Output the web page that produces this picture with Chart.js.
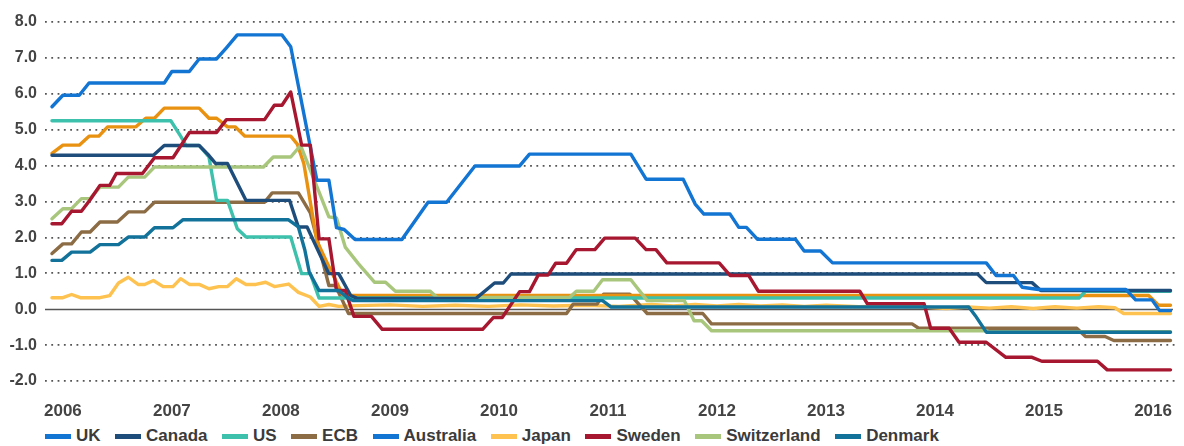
<!DOCTYPE html>
<html>
<head>
<meta charset="utf-8">
<script src="https://cdn.jsdelivr.net/npm/chart.js@4"></script>
<style>
  body { margin: 0; background: #fff; }
  #wrap { position: relative; width: 1184px; height: 446px; }
  #box { position: absolute; left: 0; top: 0; width: 1184px; height: 418px; }
  #legend {
    position: absolute; left: 45px; top: 426px; display: flex; gap: 14.5px;
    font: bold 17px 'Liberation Sans', Arial, sans-serif;
    line-height: 20px; color: #3b3b3b;
  }
  .item { display: flex; align-items: center; }
  .sw { width: 26px; height: 5px; margin-right: 5px; }
</style>
</head>
<body>
<div id="wrap">
  <div id="box"><canvas id="rates"></canvas></div>
  <div id="legend"></div>
</div>
<script>
// x = year (decimal), y = policy rate %
const years = [2006, 2007, 2008, 2009, 2010, 2011, 2012, 2013, 2014, 2015, 2016];
const names = ["UK", "Canada", "US", "ECB", "Australia", "Japan", "Sweden", "Switzerland", "Denmark"];

const uk = [[2005.90,4.34],[2006.00,4.57],[2006.15,4.57],[2006.24,4.82],[2006.33,4.82],[2006.41,5.08],[2006.67,5.08],
  [2006.76,5.32],[2006.84,5.32],[2006.93,5.60],[2007.25,5.60],[2007.34,5.32],[2007.41,5.32],[2007.51,5.08],[2007.58,5.08],
  [2007.67,4.82],[2008.09,4.82],[2008.15,4.60],[2008.21,4.06],[2008.33,1.90],[2008.43,1.25],[2008.57,0.38],
  [2015.96,0.38],[2016.05,0.11],[2016.16,0.11]];

const canada = [[2005.90,4.29],[2006.83,4.29],[2006.93,4.56],[2007.25,4.56],[2007.34,4.28],[2007.40,4.06],[2007.51,4.06],
  [2007.68,3.03],[2008.08,3.03],[2008.16,2.29],[2008.24,2.29],[2008.44,0.99],[2008.53,0.99],[2008.64,0.38],[2008.70,0.30],
  [2009.79,0.30],[2009.96,0.73],[2010.04,0.73],[2010.11,0.98],[2014.39,0.98],[2014.47,0.74],[2014.89,0.74],
  [2014.97,0.52],[2016.16,0.52]];

const us = [[2005.90,5.25],[2006.99,5.25],[2007.08,4.82],[2007.13,4.56],[2007.25,4.56],[2007.34,4.24],[2007.41,3.03],
  [2007.51,3.03],[2007.60,2.24],[2007.68,2.01],[2008.09,2.01],[2008.19,0.99],[2008.27,0.99],[2008.35,0.31],
  [2015.32,0.31],[2015.38,0.50],[2016.16,0.50]];

const ecb = [[2005.90,1.55],[2006.00,1.82],[2006.08,1.82],[2006.17,2.15],[2006.25,2.15],[2006.34,2.43],[2006.50,2.43],
  [2006.60,2.71],[2006.75,2.71],[2006.84,2.98],[2007.85,2.98],[2007.92,3.24],[2008.16,3.24],[2008.27,2.68],
  [2008.44,0.66],[2008.50,0.66],[2008.62,-0.12],[2010.62,-0.12],[2010.68,0.14],[2010.90,0.14],[2010.96,0.42],
  [2011.20,0.42],[2011.36,-0.12],[2011.87,-0.12],[2011.95,-0.41],[2013.79,-0.41],[2013.85,-0.53],[2015.30,-0.53],
  [2015.38,-0.76],[2015.56,-0.76],[2015.64,-0.87],[2016.16,-0.87]];

const australia = [[2005.90,5.64],[2006.00,5.96],[2006.15,5.96],[2006.24,6.30],[2006.93,6.30],[2007.00,6.62],
  [2007.16,6.62],[2007.25,6.97],[2007.41,6.97],[2007.50,7.28],[2007.60,7.64],[2008.01,7.64],[2008.09,7.31],
  [2008.33,3.59],[2008.44,3.59],[2008.51,2.27],[2008.58,2.22],[2008.68,1.94],[2009.11,1.94],[2009.35,2.98],
  [2009.52,2.98],[2009.78,3.99],[2010.19,3.99],[2010.28,4.32],[2011.21,4.32],[2011.35,3.62],[2011.69,3.62],
  [2011.80,2.93],[2011.88,2.65],[2012.12,2.65],[2012.20,2.28],[2012.27,2.28],[2012.37,1.95],[2012.72,1.95],
  [2012.80,1.62],[2012.95,1.62],[2013.06,1.29],[2014.47,1.29],[2014.56,0.94],[2014.72,0.94],[2014.80,0.61],
  [2014.95,0.55],[2015.75,0.55],[2015.84,0.26],[2015.99,0.26],[2016.06,-0.04],[2016.16,-0.04]];

const japan = [[2005.90,0.32],[2006.00,0.32],[2006.08,0.41],[2006.16,0.32],[2006.34,0.32],[2006.43,0.38],[2006.51,0.73],
  [2006.60,0.89],[2006.69,0.69],[2006.75,0.69],[2006.83,0.80],[2006.92,0.63],[2007.01,0.63],[2007.08,0.85],
  [2007.16,0.69],[2007.25,0.69],[2007.34,0.57],[2007.43,0.63],[2007.51,0.63],[2007.59,0.85],[2007.68,0.69],
  [2007.77,0.69],[2007.86,0.75],[2007.94,0.63],[2008.07,0.70],[2008.16,0.47],[2008.27,0.34],[2008.35,0.08],
  [2008.44,0.13],[2008.53,0.08],[2008.70,0.10],[2009.00,0.12],[2009.30,0.08],[2009.60,0.11],[2009.90,0.08],
  [2010.20,0.12],[2010.50,0.09],[2010.80,0.11],[2011.10,0.08],[2011.40,0.13],[2011.60,0.09],[2011.80,0.13],
  [2012.00,0.09],[2012.20,0.13],[2012.40,0.09],[2012.60,0.12],[2012.80,0.08],[2013.00,0.11],[2013.30,0.07],
  [2013.60,0.09],[2013.90,0.06],[2014.10,0.02],[2014.30,0.06],[2014.50,0.03],[2014.70,0.07],[2014.90,0.02],
  [2015.10,0.07],[2015.30,0.03],[2015.50,0.07],[2015.65,0.04],[2015.73,-0.12],[2016.16,-0.12]];

const sweden = [[2005.90,2.38],[2005.99,2.38],[2006.08,2.73],[2006.17,2.73],[2006.25,3.05],[2006.34,3.45],[2006.43,3.45],
  [2006.49,3.78],[2006.73,3.78],[2006.84,4.22],[2007.01,4.22],[2007.16,4.92],[2007.41,4.92],[2007.50,5.28],
  [2007.85,5.28],[2007.94,5.68],[2008.01,5.68],[2008.09,6.05],[2008.19,4.57],[2008.27,4.57],[2008.35,1.96],
  [2008.44,1.96],[2008.51,0.52],[2008.59,0.52],[2008.67,-0.20],[2008.83,-0.20],[2008.93,-0.56],[2009.85,-0.56],
  [2009.95,-0.23],[2010.03,-0.23],[2010.19,0.49],[2010.28,0.49],[2010.36,0.95],[2010.45,0.95],[2010.52,1.28],
  [2010.62,1.28],[2010.71,1.66],[2010.88,1.66],[2010.97,1.98],[2011.25,1.98],[2011.35,1.66],[2011.44,1.66],
  [2011.54,1.29],[2012.02,1.29],[2012.12,0.94],[2012.29,0.94],[2012.38,0.50],[2013.31,0.50],[2013.38,0.15],
  [2013.90,0.15],[2013.96,-0.53],[2014.13,-0.53],[2014.22,-0.92],[2014.47,-0.92],[2014.65,-1.34],[2014.89,-1.34],
  [2014.98,-1.45],[2015.49,-1.45],[2015.58,-1.69],[2016.16,-1.69]];

const switzerland = [[2005.90,2.52],[2006.00,2.80],[2006.08,2.80],[2006.17,3.08],[2006.25,3.08],[2006.34,3.40],
  [2006.51,3.40],[2006.60,3.68],[2006.75,3.68],[2006.84,3.96],[2007.84,3.96],[2007.93,4.24],[2008.09,4.24],
  [2008.18,4.56],[2008.44,2.57],[2008.51,2.54],[2008.59,1.73],[2008.71,1.27],[2008.86,0.75],[2008.96,0.75],
  [2009.05,0.50],[2009.37,0.50],[2009.43,0.33],[2010.65,0.33],[2010.71,0.50],[2010.87,0.50],[2010.95,0.82],
  [2011.21,0.82],[2011.36,0.24],[2011.70,0.24],[2011.79,-0.32],[2011.86,-0.32],[2011.95,-0.60],[2014.47,-0.60],
  [2014.50,-0.63],[2016.16,-0.63]];

const denmark = [[2005.90,1.36],[2005.99,1.36],[2006.08,1.59],[2006.25,1.59],[2006.34,1.80],[2006.51,1.80],
  [2006.60,2.01],[2006.75,2.01],[2006.84,2.27],[2007.01,2.27],[2007.10,2.49],[2008.07,2.49],[2008.16,2.29],
  [2008.22,1.64],[2008.26,1.03],[2008.35,0.52],[2008.53,0.52],[2008.62,0.30],[2008.66,0.24],[2010.95,0.24],
  [2011.03,0.06],[2014.31,0.06],[2014.37,-0.18],[2014.47,-0.64],[2016.16,-0.64]];

const series = [uk, canada, us, ecb, australia, japan, sweden, switzerland, denmark];
const lineColors = ["#e99110", "#1e4d7b", "#3ec1ac", "#8c6c45", "#1274d3", "#fdc24f", "#a7172f", "#a9c67d", "#12729a"];
// the key in the source shows UK in the same blue as Australia
const keyColors = ["#1274d3", "#1e4d7b", "#3ec1ac", "#8c6c45", "#1274d3", "#fdc24f", "#a7172f", "#a9c67d", "#12729a"];
const drawOrder = [6, 3, 5, 7, 2, 8, 1, 4, 0]; // lower = on top

const tickFont = { family: "'Liberation Sans', Arial, sans-serif", weight: "bold" };

const zeroLine = {
  id: "zeroLine",
  beforeDatasetsDraw(chart) {
    const { ctx, chartArea: a, scales: { y } } = chart;
    const py = Math.round(y.getPixelForValue(0)) + 0.5;
    ctx.save();
    ctx.strokeStyle = "#555";
    ctx.lineWidth = 1.5;
    ctx.beginPath();
    ctx.moveTo(a.left, py);
    ctx.lineTo(a.right - 4, py);
    ctx.stroke();
    ctx.restore();
  },
};

const chart = new Chart(document.getElementById("rates"), {
  type: "line",
  data: {
    datasets: names.map((name, i) => ({
      label: name,
      data: series[i].map(([x, y]) => ({ x, y })),
      borderColor: lineColors[i],
      keyColor: keyColors[i],
      order: drawOrder[i],
    })),
  },
  options: {
    responsive: true,
    maintainAspectRatio: false,
    animation: false,
    layout: { padding: { top: 22, right: 2, left: 0, bottom: 0 } },
    plugins: { legend: { display: false }, tooltip: { enabled: false } },
    elements: {
      point: { radius: 0 },
      line: { borderWidth: 3.4, tension: 0, borderJoinStyle: "round", borderCapStyle: "round" },
    },
    scales: {
      x: {
        type: "linear",
        min: 2005.836,
        max: 2016.219,
        afterBuildTicks: (s) => { s.ticks = years.map((v) => ({ value: v })); },
        afterFit: (s) => { s.height = 37; },
        grid: { display: false },
        border: { display: false },
        ticks: {
          padding: 12,
          color: "#444",
          autoSkip: false,
          maxRotation: 0,
          font: { ...tickFont, size: 17 },
          callback: (v) => String(v),
        },
      },
      y: {
        min: -2,
        max: 8,
        afterFit: (s) => { s.width = 45; },
        ticks: {
          stepSize: 1,
          padding: 8,
          color: "#444",
          font: { ...tickFont, size: 16 },
          callback: (v) => v.toFixed(1),
        },
        grid: {
          drawTicks: false,
          lineWidth: 1.8,
          color: (c) => (c.tick && c.tick.value === 0 ? "rgba(0,0,0,0)" : "#555"),
        },
        border: { display: false, dash: [1.8, 4.5] },
      },
    },
  },
  plugins: [zeroLine],
});

// legend below the plot
const legend = document.getElementById("legend");
chart.data.datasets.forEach((ds) => {
  const item = document.createElement("div");
  item.className = "item";
  const sw = document.createElement("span");
  sw.className = "sw";
  sw.style.background = ds.keyColor;
  const txt = document.createElement("span");
  txt.textContent = ds.label;
  item.append(sw, txt);
  legend.append(item);
});
</script>
</body>
</html>
